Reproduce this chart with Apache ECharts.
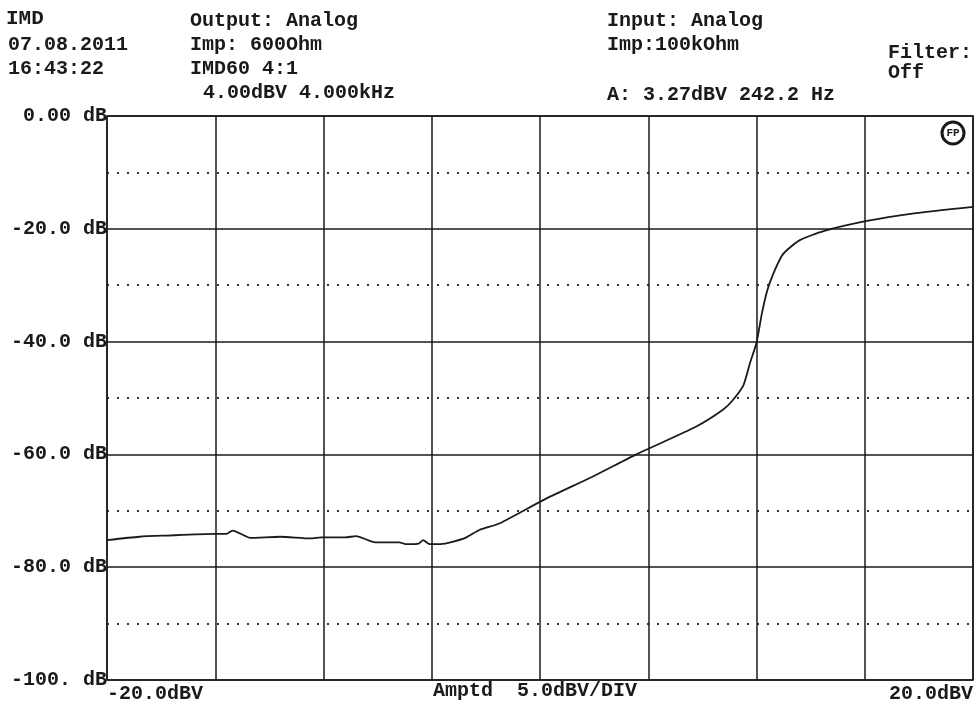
<!DOCTYPE html>
<html>
<head>
<meta charset="utf-8">
<script src="https://cdn.jsdelivr.net/npm/echarts@6/dist/echarts.min.js"></script>
<style>
    html, body { margin: 0; padding: 0; background: #fff; }
    #chart { width: 980px; height: 713px; }
</style>
</head>
<body>
<div id="chart"></div>
<script>
// IMD sweep printout: IMD (dB) vs amplitude (dBV)

const amplitude = [-20, -18.5, -17.3, -15.0, -14.5, -14.2, -13.6, -13.4, -12.0, -10.6, -10.1, -9.0, -8.5, -7.6,
    -6.5, -6.2, -5.6, -5.4, -5.1, -4.6, -3.5, -2.8, -1.85, 0.3, 2.4, 4.5, 7.2, 8.45, 8.9, 9.4, 9.7,
    10.0, 10.25, 10.5, 10.75, 11.15, 11.4, 12.0, 13.1, 15.1, 17.2, 20.0]   // dBV
const imd = [-75.2, -74.6, -74.4, -74.1, -74.1, -73.5, -74.5, -74.8, -74.6, -74.9, -74.7, -74.7, -74.5, -75.6,
    -75.6, -75.9, -75.8, -75.2, -75.9, -75.9, -74.9, -73.4, -72.2, -67.8, -64.0, -59.9, -55.1, -52.1,
    -50.4, -47.7, -43.8, -40.2, -35.0, -30.9, -28.2, -24.9, -23.8, -22.0, -20.4, -18.6, -17.3, -16.1]  // dB

const yTickLabels = { '0': '0.00 dB', '-20': '-20.0 dB', '-40': '-40.0 dB', '-60': '-60.0 dB', '-80': '-80.0 dB', '-100': '-100. dB' }
const xTickLabels = { '-20': '-20.0dBV', '20': '20.0dBV' }

// header texts [text, x, y]
const headerLeft = [
    ['07.08.2011', 8, 46],
    ['16:43:22', 8, 70],
    ['Output: Analog', 190, 22],
    ['Imp: 600Ohm', 190, 46],
    ['IMD60 4:1', 190, 70],
    ['4.00dBV 4.000kHz', 203, 94],
    ['Input: Analog', 607, 22],
    ['Imp:100kOhm', 607, 46],
    ['A: 3.27dBV 242.2 Hz', 607, 96],
    ['Filter:', 888, 54],
    ['Off', 888, 74],
    ['Amptd  5.0dBV/DIV', 433, 692]
]

const FONT = '"Liberation Mono", "DejaVu Sans Mono", monospace'
const INK = '#1a1a1a'

const chart = echarts.init(document.getElementById('chart'))

const data = amplitude.map((x, i) => [x, imd[i]])

const graphics = headerLeft.map(t => ({
    type: 'text',
    left: t[1],
    top: t[2] - 11,
    style: { text: t[0], font: 'bold 20px ' + FONT, fill: INK }
}))

// "IMD" title
graphics.push({
    type: 'text', left: 6, top: 8,
    style: { text: 'IMD', font: 'bold 21px ' + FONT, fill: INK }
})

// little circled logo in the corner
graphics.push({
    type: 'circle', shape: { cx: 953, cy: 133, r: 11 },
    style: { fill: 'none', stroke: INK, lineWidth: 3 }
})
graphics.push({
    type: 'text', x: 953, y: 133,
    style: { text: 'FP', font: 'bold 11px ' + FONT, fill: INK, align: 'center', verticalAlign: 'middle' }
})

const options = {
    backgroundColor: '#fff',
    animation: false,
    grid: {
        left: 107,
        right: 7,
        top: 116,
        bottom: 33,
        show: true,
        borderColor: INK,
        borderWidth: 1.5
    },
    xAxis: {
        type: 'value',
        min: -20,
        max: 20,
        interval: 5,
        axisLine: { show: false },
        axisTick: { show: false },
        splitLine: { show: true, lineStyle: { color: INK, width: 1.5 } },
        axisLabel: {
            margin: 4,
            fontFamily: FONT,
            fontSize: 20,
            fontWeight: 'bold',
            color: INK,
            alignMinLabel: 'left',
            alignMaxLabel: 'right',
            formatter: v => xTickLabels[String(v)] || ''
        }
    },
    yAxis: {
        type: 'value',
        min: -100,
        max: 0,
        interval: 20,
        axisLine: { show: false },
        axisTick: { show: false },
        splitLine: { show: true, lineStyle: { color: INK, width: 1.5 } },
        minorTick: { show: false, splitNumber: 2 },
        minorSplitLine: { show: true, lineStyle: { color: '#333', width: 2, type: [2, 8] } },
        axisLabel: {
            margin: 0,
            fontFamily: FONT,
            fontSize: 20,
            fontWeight: 'bold',
            color: INK,
            formatter: v => yTickLabels[String(v)] || ''
        }
    },
    graphic: graphics,
    series: [
        {
            type: 'line',
            data: data,
            showSymbol: false,
            smooth: 0.2,
            lineStyle: { color: INK, width: 1.8 }
        }
    ]
}

chart.setOption(options)
</script>
</body>
</html>
